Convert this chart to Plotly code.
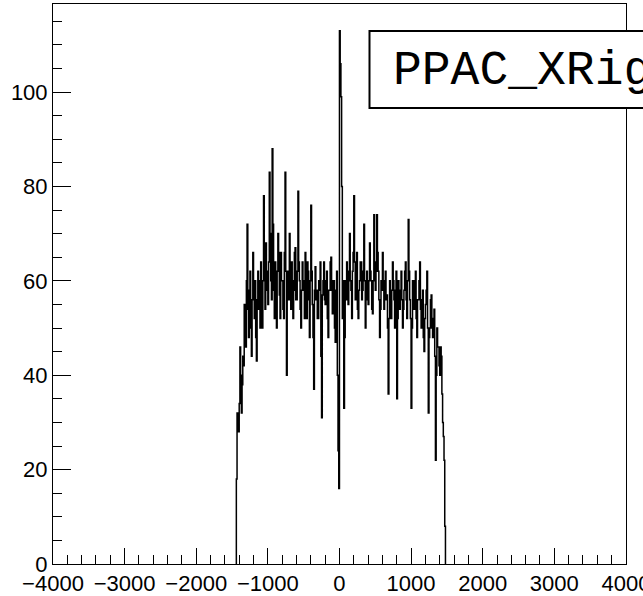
import plotly.graph_objects as go

# Histogram "PPAC_XRight": bins of width 10 starting at -1440
bin_start = -1440
bin_width = 10
counts = [
    18, 32, 30, 28,
    34, 46, 40, 32, 38, 44, 42, 55, 50, 46,
    60, 72, 54, 48, 58, 62, 50, 44, 56, 66,
    58, 52, 60, 48, 43, 56, 62, 54, 60, 50,
    64, 56, 50, 60, 78, 62, 54, 68, 58, 62,
    55, 64, 83, 70, 60, 56, 88, 72, 58, 52,
    64, 58, 50, 62, 70, 66, 57, 52, 66, 60,
    60, 54, 52, 66, 83, 62, 40, 58, 62, 56,
    70, 60, 54, 64, 60, 52, 58, 66, 67, 56,
    56, 62, 79, 64, 60, 54, 50, 58, 64, 60,
    58, 52, 66, 60, 52, 64, 62, 56, 48, 60,
    76, 62, 55, 48, 37, 58, 63, 56, 58, 52,
    52, 60, 58, 64, 44, 31, 57, 60, 64, 56,
    55, 60, 62, 52, 48, 58, 58, 64, 65, 58,
    53, 60, 60, 50, 47, 58, 62, 40, 24, 16,
    113, 106, 99, 80, 52, 60, 33, 48, 60, 56,
    64, 58, 55, 62, 70, 60, 58, 52, 62, 66,
    78, 64, 56, 60, 66, 54, 52, 58, 60, 64,
    64, 56, 58, 62, 72, 60, 50, 56, 62, 58,
    55, 60, 68, 62, 60, 54, 53, 60, 74, 64,
    58, 62, 74, 66, 62, 56, 48, 54, 60, 58,
    66, 58, 54, 60, 62, 56, 57, 50, 36, 52,
    60, 56, 52, 58, 64, 60, 56, 50, 58, 62,
    35, 52, 60, 56, 54, 58, 62, 56, 50, 54,
    58, 62, 64, 56, 52, 60, 73, 62, 56, 52,
    33, 50, 60, 58, 54, 60, 62, 52, 48, 56,
    56, 60, 64, 54, 50, 56, 58, 48, 45, 52,
    55, 58, 62, 50, 32, 48, 50, 56, 57, 50,
    48, 52, 54, 44, 22, 40, 50, 46, 46, 42,
    40, 46, 44, 36, 30, 27, 22, 8,
]
title_text = "PPAC_XRight"
x_ticks = [-4000, -3000, -2000, -1000, 0, 1000, 2000, 3000, 4000]
y_ticks = [0, 20, 40, 60, 80, 100]
y_max = max(counts) * 1.05

edges = [bin_start + bin_width * i for i in range(len(counts) + 1)]
xs = [edges[0]] + edges
ys = [0] + counts + [0]

W, H = 643, 596
ml, mr, mt, mb = 53, 17, 4, 32
pw, ph = W - ml - mr, H - mt - mb

def px_x(p):
    return (p - ml) / pw

def px_y(p):
    return (H - mb - p) / ph

fig = go.Figure()
fig.add_trace(go.Scatter(
    x=xs, y=ys, mode="lines", line=dict(shape="hv", color="black", width=1.5),
    hoverinfo="skip", showlegend=False,
))

axis_common = dict(
    showgrid=False, zeroline=False, showline=True, linecolor="black",
    linewidth=1, mirror=True, ticks="inside", tickcolor="black",
    ticklabeloverflow="allow", automargin=False,
    tickfont=dict(family="Liberation Sans, Arial, sans-serif", size=22, color="black"),
)
fig.update_xaxes(range=[x_ticks[0], x_ticks[-1] + 1], tickmode="array",
                 tickvals=x_ticks, ticktext=[str(v).replace("-", "\u2212") for v in x_ticks],
                 ticklen=16,
                 minor=dict(dtick=200, tick0=0, ticklen=9, ticks="inside", tickcolor="black"),
                 **axis_common)
fig.update_yaxes(range=[0, y_max], tickmode="array", tickvals=y_ticks,
                 ticktext=[str(v) for v in y_ticks], ticklen=18,
                 minor=dict(dtick=5, tick0=0, ticklen=9, ticks="inside", tickcolor="black"),
                 **axis_common)

fig.add_shape(type="rect", xref="paper", yref="paper",
              x0=px_x(369.5), x1=px_x(720), y0=px_y(108), y1=px_y(31),
              line=dict(color="black", width=2), fillcolor="white", layer="above")
fig.add_annotation(text=title_text, xref="paper", yref="paper",
                   x=px_x(391), y=px_y(71), xanchor="left", yanchor="middle",
                   showarrow=False,
                   font=dict(family="Courier New, Courier, Nimbus Mono PS, FreeMono, Liberation Mono, monospace",
                             size=48, color="black"))

fig.update_layout(
    width=W, height=H, margin=dict(l=ml, r=mr, t=mt, b=mb, autoexpand=False),
    paper_bgcolor="white", plot_bgcolor="white",
)
fig.write_html("out.html")
